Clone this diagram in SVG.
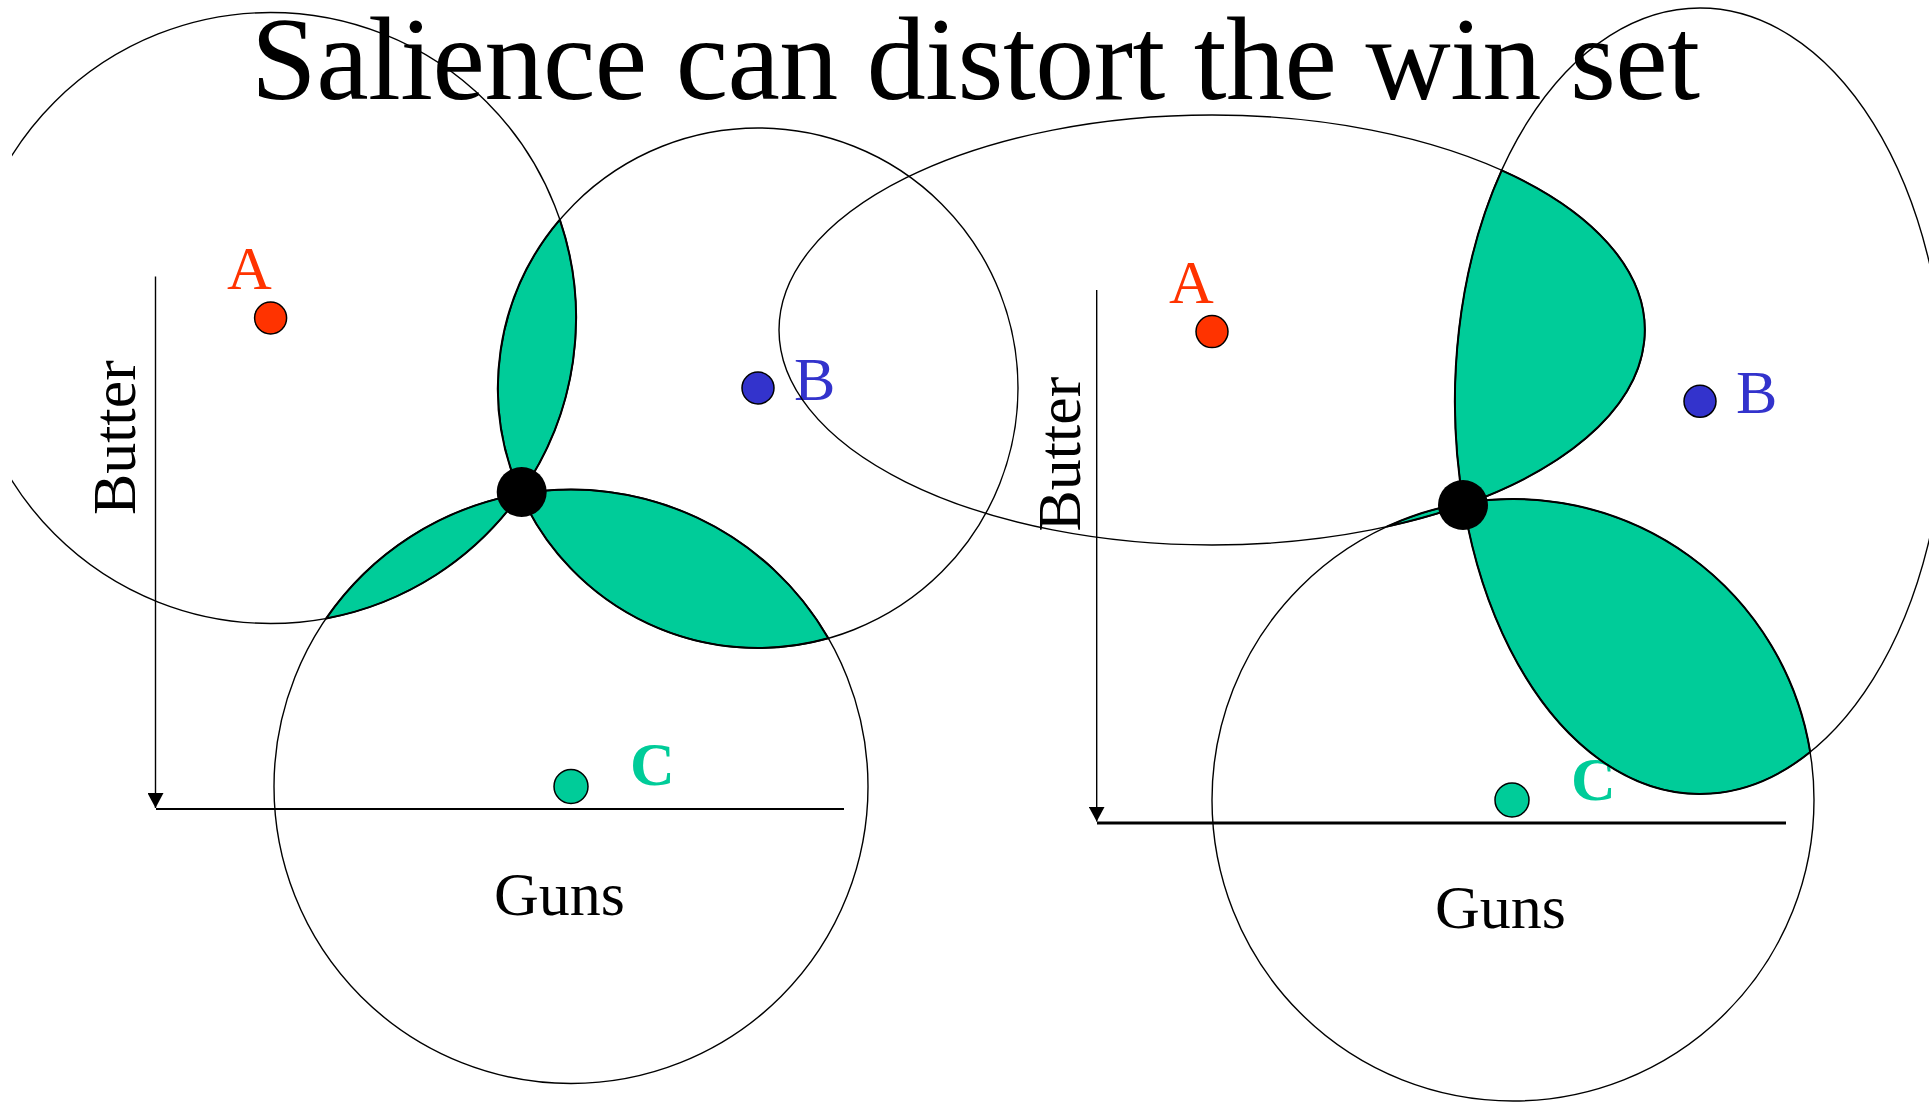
<svg xmlns="http://www.w3.org/2000/svg" width="1929" height="1104" viewBox="0 0 1929 1104">
<style>
  .bg { fill: #ffffff; }
  .ring { fill: none; stroke: #000000; stroke-width: 1.4; }
  .petal { fill: #00CC99; stroke: #000000; stroke-width: 2; stroke-linejoin: round; }
  .axis { stroke: #000000; stroke-width: 1.4; fill: none; }
  .base { stroke: #000000; fill: none; }
  .sq { fill: #000000; }
  .dot { stroke: #000000; stroke-width: 1.5; }
  .lbl { font-family: "Liberation Serif", "Times New Roman", serif; font-size: 62px; }
  .title { font-family: "Liberation Serif", "Times New Roman", serif; font-size: 118px; fill: #000000; }
  .ca { fill: #FF3300; }
  .cb { fill: #3333CC; }
  .cc { fill: #00CC99; }
  .ck { fill: #000000; }
</style>
<defs>
  <marker id="arrow" markerUnits="userSpaceOnUse" viewBox="0 0 15 16" markerWidth="15" markerHeight="16" refX="15" refY="8" orient="auto">
    <path d="M0,0 L15,8 L0,16 z" fill="#000000"/>
  </marker>
  <clipPath id="clipLeft">
    <rect x="12" y="0" width="1917" height="1104"/>
  </clipPath>
</defs>
<rect class="bg" x="0" y="0" width="1929" height="1104"/>

<g id="left-panel">
  <g id="left-axes">
    <line class="axis" x1="155.5" y1="276.5" x2="155.5" y2="808" marker-end="url(#arrow)"/>
    <line class="base" x1="156" y1="809" x2="844" y2="809" stroke-width="2.2"/>
  </g>
  <g id="left-winset">
    <path class="petal" d="M 559.8 219.6 A 305.5 305.5 0 0 1 520.4 493.8 A 260 260 0 0 1 559.8 219.6 Z"/>
    <path class="petal" d="M 520.5 493.9 A 297 297 0 0 1 828.3 638.3 A 260 260 0 0 1 520.5 493.9 Z"/>
    <path class="petal" d="M 520.4 494 A 305.5 305.5 0 0 1 326.2 618.4 A 297 297 0 0 1 520.4 494 Z"/>
  </g>
  <g id="left-indifference">
    <circle class="ring" cx="270.6" cy="318" r="305.5" clip-path="url(#clipLeft)"/>
    <circle class="ring" cx="758" cy="388" r="260"/>
    <circle class="ring" cx="571" cy="786.5" r="297"/>
  </g>
  <g id="left-A">
    <circle class="dot ca" cx="270.6" cy="318" r="16"/>
    <text class="lbl ca" x="227" y="289">A</text>
  </g>
  <g id="left-B">
    <circle class="dot cb" cx="758" cy="388" r="16"/>
    <text class="lbl cb" x="794" y="400">B</text>
  </g>
  <g id="left-C">
    <circle class="dot cc" cx="571" cy="786.5" r="17"/>
    <text class="lbl cc" x="630" y="785" font-weight="bold">C</text>
  </g>
  <g id="left-sq">
    <circle class="sq" cx="521.7" cy="492" r="25"/>
  </g>
  <text class="lbl ck" x="494" y="915">Guns</text>
  <text class="lbl ck" transform="translate(135 515) rotate(-90)">Butter</text>
</g>

<g id="right-panel">
  <g id="right-axes">
    <line class="axis" x1="1096.7" y1="290" x2="1096.7" y2="821.6" marker-end="url(#arrow)"/>
    <line class="base" x1="1097" y1="823" x2="1786" y2="823" stroke-width="3"/>
  </g>
  <g id="right-C">
    <circle class="dot cc" cx="1512" cy="800" r="17"/>
    <text class="lbl cc" x="1571" y="800" font-weight="bold">C</text>
  </g>
  <g id="right-winset">
    <path class="petal" d="M 1501.7 170.3 A 433 215 0 0 1 1463.6 504.9 A 245 393 0 0 1 1501.7 170.3 Z"/>
    <path class="petal" d="M 1463.4 503.1 A 301 301 0 0 1 1810.2 752 A 245 393 0 0 1 1463.4 503.1 Z"/>
    <path class="petal" d="M 1387.2 526.5 A 301 301 0 0 1 1472 501.8 A 433 215 0 0 1 1387.2 526.5 Z"/>
  </g>
  <g id="right-indifference">
    <ellipse class="ring" cx="1212" cy="330" rx="433" ry="215"/>
    <ellipse class="ring" cx="1700" cy="401" rx="245" ry="393"/>
    <circle class="ring" cx="1513" cy="800" r="301"/>
  </g>
  <g id="right-A">
    <circle class="dot ca" cx="1212" cy="331.6" r="16"/>
    <text class="lbl ca" x="1169" y="302.5">A</text>
  </g>
  <g id="right-B">
    <circle class="dot cb" cx="1700" cy="401.3" r="16"/>
    <text class="lbl cb" x="1736" y="413">B</text>
  </g>
  <g id="right-sq">
    <circle class="sq" cx="1463" cy="505" r="25"/>
  </g>
  <text class="lbl ck" x="1435" y="928">Guns</text>
  <text class="lbl ck" transform="translate(1080 531.5) rotate(-90)">Butter</text>
</g>

<g id="title">
  <text class="title" x="251" y="99" textLength="1449">Salience can distort the win set</text>
</g>
</svg>
